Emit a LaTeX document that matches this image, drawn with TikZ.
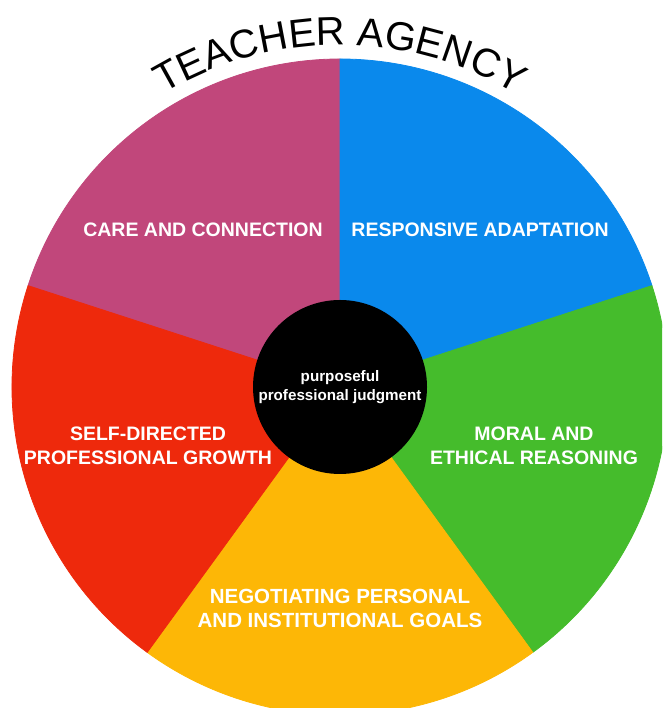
\documentclass[tikz,border=0pt]{standalone}
\usepackage{fontspec}
\setmainfont{Liberation Sans}
\usetikzlibrary{calc,decorations.text}

\definecolor{carepink}{HTML}{C1477B}
\definecolor{adaptblue}{HTML}{0A89EC}
\definecolor{moralgreen}{HTML}{45BC2C}
\definecolor{goalyellow}{HTML}{FDB706}
\definecolor{growthred}{HTML}{EE290C}

\begin{document}
\begin{tikzpicture}[x=1pt,y=1pt,
  sector/.style={line width=0.8pt, line join=round},
  wedgelabel/.style={text=white, font=\bfseries\fontsize{19.5}{24}\selectfont,
    align=center, inner sep=0pt},
  core/.style={circle, fill=black, minimum size=174pt, inner sep=0pt,
    text=white, font=\bfseries\fontsize{15.2}{19.5}\selectfont, align=center}]
\useasboundingbox (0,0) rectangle (662,708);
\clip (0,0) rectangle (662,708);
\coordinate (c) at (340,321);
\def\wheelR{328}

% five equal wedges of the wheel
\filldraw[sector, fill=carepink, draw=carepink] (c) -- ($(c)+(90:\wheelR)$)
  arc[start angle=90, end angle=162, radius=\wheelR] -- cycle;
\filldraw[sector, fill=adaptblue, draw=adaptblue] (c) -- ($(c)+(18:\wheelR)$)
  arc[start angle=18, end angle=90, radius=\wheelR] -- cycle;
\filldraw[sector, fill=moralgreen, draw=moralgreen] (c) -- ($(c)+(-54:\wheelR)$)
  arc[start angle=-54, end angle=18, radius=\wheelR] -- cycle;
\filldraw[sector, fill=goalyellow, draw=goalyellow] (c) -- ($(c)+(-126:\wheelR)$)
  arc[start angle=-126, end angle=-54, radius=\wheelR] -- cycle;
\filldraw[sector, fill=growthred, draw=growthred] (c) -- ($(c)+(162:\wheelR)$)
  arc[start angle=162, end angle=234, radius=\wheelR] -- cycle;

% hub
\node[core] (hub) at (c) {purposeful\\professional judgment};

% wedge captions
\node[wedgelabel] (care) at (203,478) {CARE AND CONNECTION};
\node[wedgelabel] (adapt) at (480,478) {RESPONSIVE ADAPTATION};
\node[wedgelabel] (growth) at (148,262) {SELF-DIRECTED\\PROFESSIONAL GROWTH};
\node[wedgelabel] (moral) at (534,262) {MORAL AND\\ETHICAL REASONING};
\node[wedgelabel, font=\bfseries\fontsize{20.5}{24}\selectfont] (goals) at (340,100)
  {NEGOTIATING PERSONAL\\AND INSTITUTIONAL GOALS};

% curved title over the wheel
\path[decorate, decoration={text along path, text align=center,
  text={|\fontsize{40}{40}\selectfont|TEACHER AGENCY}}]
  ($(c)+(160:342)$) arc[start angle=160, end angle=20, radius=342];
\end{tikzpicture}
\end{document}
